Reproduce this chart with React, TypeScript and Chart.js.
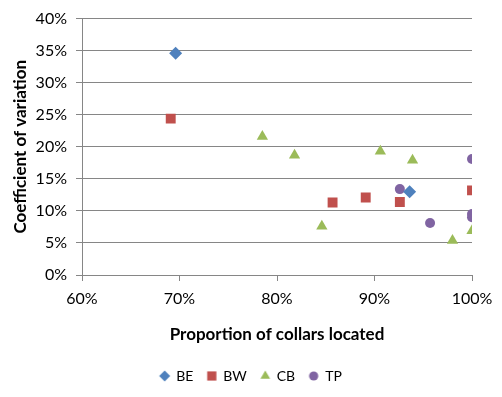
import React, { useEffect, useRef } from "react";
import { Chart, registerables } from "chart.js";
import { drawPoint } from "chart.js/helpers";

Chart.register(...registerables);

// Proportion of collars located (%) and coefficient of variation (%) per site
const beX = [69.6, 93.6];
const beY = [34.6, 13.0];

const bwX = [69.1, 85.7, 89.1, 92.6, 100];
const bwY = [24.4, 11.3, 12.1, 11.4, 13.2];

const cbX = [78.5, 81.8, 90.6, 93.9, 84.6, 98.0, 100];
const cbY = [21.6, 18.7, 19.3, 17.9, 7.6, 5.4, 6.9];

const tpX = [100, 92.6, 95.7, 100, 100];
const tpY = [18.1, 13.4, 8.1, 9.5, 9.0];

const seriesNames = ["BE", "BW", "CB", "TP"];
const seriesColors = ["#4F81BD", "#C0504D", "#9BBB59", "#8064A2"];
const seriesStyles = ["rectRot", "rect", "triangle", "circle"];
const plotRadius = [6.5, 7, 6.5, 5];
const legendRadius = [5.5, 6.5, 5.6, 4.6];

const xTitle = "Proportion of collars located";
const yTitle = "Coefficient of variation";

const FONT = "Lato, 'Open Sans', sans-serif";
const AXIS_GRAY = "#868686";

const toPoints = (xs: number[], ys: number[]) => xs.map((x, i) => ({ x, y: ys[i] }));

// small marker bitmap for the legend, drawn with Chart.js' own point renderer
function legendIcon(i: number) {
  const c = document.createElement("canvas");
  c.width = 14;
  c.height = 14;
  const ctx = c.getContext("2d")!;
  ctx.fillStyle = seriesColors[i];
  ctx.strokeStyle = seriesColors[i];
  drawPoint(
    ctx,
    { pointStyle: seriesStyles[i], radius: legendRadius[i], rotation: 0, borderWidth: 0 } as any,
    7,
    7
  );
  return c;
}

export default function App() {
  const canvasRef = useRef<HTMLCanvasElement | null>(null);

  useEffect(() => {
    const canvas = canvasRef.current;
    if (!canvas) return;

    const allX = [beX, bwX, cbX, tpX];
    const allY = [beY, bwY, cbY, tpY];
    const icons = seriesNames.map((_, i) => legendIcon(i));

    const datasets = seriesNames.map((name, i) => ({
      label: name,
      data: toPoints(allX[i], allY[i]),
      pointStyle: seriesStyles[i],
      pointRadius: plotRadius[i],
      pointHoverRadius: plotRadius[i],
      backgroundColor: seriesColors[i],
      borderColor: seriesColors[i],
      borderWidth: 0,
      pointBorderWidth: 0,
      showLine: false,
    }));

    const chart = new Chart(canvas, {
      type: "scatter",
      data: { datasets },
      options: {
        responsive: false,
        animation: false,
        layout: { padding: { top: 15, right: 0, bottom: 4, left: 0 } },
        plugins: {
          tooltip: { enabled: false },
          legend: {
            position: "bottom",
            labels: {
              usePointStyle: true,
              boxWidth: 9,
              boxHeight: 9,
              padding: 14,
              color: "#000",
              font: { family: FONT, size: 14 },
              generateLabels: (ch: any) =>
                (Chart.defaults.plugins.legend.labels as any)
                  .generateLabels(ch)
                  .map((item: any, i: number) => ({ ...item, pointStyle: icons[i], lineWidth: 0 })),
            },
          },
        },
        scales: {
          x: {
            type: "linear",
            min: 60,
            max: 100,
            afterFit: (scale: any) => {
              scale.height = 80;
            },
            ticks: {
              stepSize: 10,
              padding: 8,
              color: "#000",
              font: { family: FONT, size: 16 },
              callback: (v: any) => v + "%",
            },
            grid: {
              display: true,
              drawOnChartArea: false,
              drawTicks: true,
              tickLength: 6,
              color: AXIS_GRAY,
              lineWidth: 1,
            },
            border: { display: true, color: AXIS_GRAY, width: 1 },
            title: {
              display: true,
              text: xTitle,
              color: "#000",
              font: { family: FONT, size: 17, weight: "bold" },
              padding: { top: 0, bottom: 10 },
            },
          },
          y: {
            type: "linear",
            min: 0,
            max: 40,
            afterFit: (scale: any) => {
              scale.width = 82;
            },
            ticks: {
              stepSize: 5,
              padding: 9,
              color: "#000",
              font: { family: FONT, size: 16 },
              callback: (v: any) => v + "%",
            },
            grid: {
              display: true,
              drawOnChartArea: true,
              drawTicks: true,
              tickLength: 6,
              color: AXIS_GRAY,
              lineWidth: 1,
            },
            border: { display: true, color: AXIS_GRAY, width: 1 },
            title: {
              display: true,
              text: yTitle,
              color: "#000",
              font: { family: FONT, size: 17, weight: "bold" },
              padding: { top: 10, bottom: 0 },
            },
          },
          // empty right-hand margin so the legend stays centred on the canvas
          gutter: {
            type: "linear",
            position: "right",
            display: true,
            afterFit: (scale: any) => {
              scale.width = 30;
            },
            ticks: { display: false },
            grid: { display: false, drawTicks: false },
            border: { display: false },
          },
        },
      },
    } as any);

    return () => chart.destroy();
  }, []);

  return (
    <div style={{ position: "fixed", left: 0, top: 0, width: 502, height: 397, background: "#fff" }}>
      <canvas ref={canvasRef} width={502} height={397} />
    </div>
  );
}
